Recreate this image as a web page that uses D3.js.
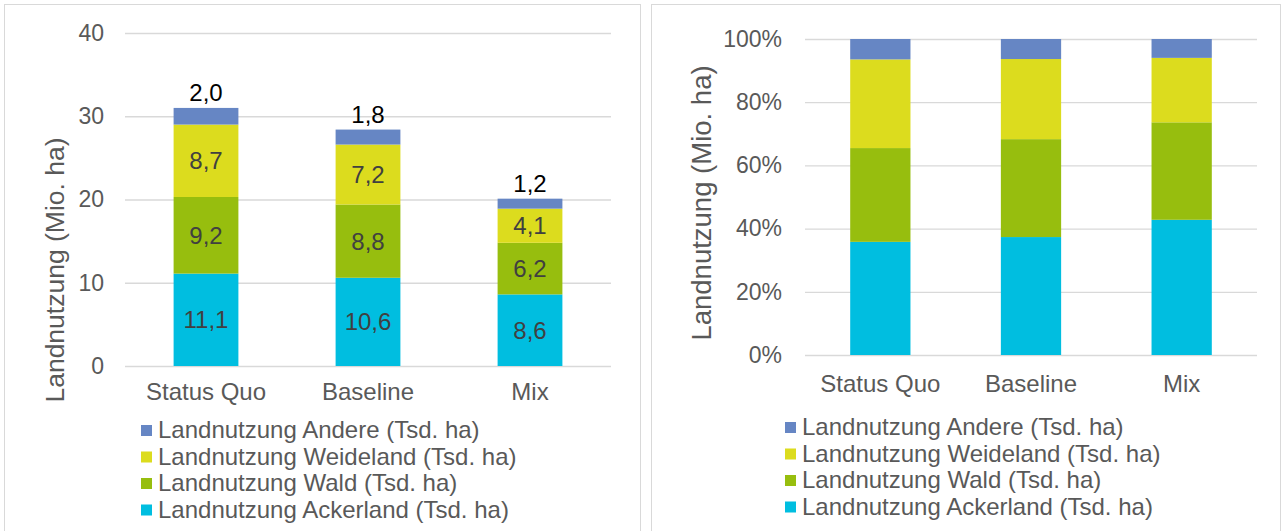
<!DOCTYPE html>
<html>
<head>
<meta charset="utf-8">
<script src="https://cdn.jsdelivr.net/npm/d3@7"></script>
<style>
  html, body { margin: 0; padding: 0; background: #ffffff; }
  svg { display: block; font-family: "Liberation Sans", Arial, sans-serif; }
</style>
</head>
<body>
<svg id="chart" width="1284" height="531"></svg>
<script>
// Land use per scenario (Mio. ha)
const categories = ["Status Quo", "Baseline", "Mix"];
const ackerland = [11.1, 10.6, 8.6];
const wald = [9.2, 8.8, 6.2];
const weideland = [8.7, 7.2, 4.1];
const andere = [2.0, 1.8, 1.2];

const seriesKeys = ["ackerland", "wald", "weideland", "andere"];
const seriesLabels = [
  "Landnutzung Ackerland (Tsd. ha)",
  "Landnutzung Wald (Tsd. ha)",
  "Landnutzung Weideland (Tsd. ha)",
  "Landnutzung Andere (Tsd. ha)"
];
const seriesColors = ["#00BEE0", "#97BE0E", "#DCDC1E", "#6686C4"];

const absTicks = [0, 10, 20, 30, 40];
const pctTicks = [0, 0.2, 0.4, 0.6, 0.8, 1.0];
const yTitle = "Landnutzung (Mio. ha)";

const rows = categories.map((c, i) => ({
  category: c,
  ackerland: ackerland[i],
  wald: wald[i],
  weideland: weideland[i],
  andere: andere[i]
}));

const de = d3.formatLocale({ decimal: ",", thousands: ".", grouping: [3], currency: ["", " €"] });
const fmt1 = de.format(".1f");
const fmtPct = d3.format(".0%");

const svg = d3.select("#chart");
const GRID = "#D9D9D9";
const TEXT = "#595959";

// panel frames
svg.append("rect").attr("x", 4.5).attr("y", 4.5).attr("width", 636).attr("height", 560)
  .attr("fill", "#fff").attr("stroke", GRID);
svg.append("rect").attr("x", 651.5).attr("y", 4.5).attr("width", 629).attr("height", 560)
  .attr("fill", "#fff").attr("stroke", GRID);

function drawPanel(cfg) {
  const stack = d3.stack().keys(seriesKeys);
  if (cfg.expand) stack.offset(d3.stackOffsetExpand);
  const series = stack(rows);

  const x = d3.scaleBand().domain(categories)
    .range([cfg.left, cfg.right]).paddingInner(0.6).paddingOuter(0.3);
  const y = d3.scaleLinear().domain(cfg.domain).range([cfg.bottom, cfg.top]);

  const g = svg.append("g");

  // gridlines + value axis
  const yAxis = d3.axisLeft(y).tickValues(cfg.ticks)
    .tickSize(-(cfg.right - cfg.left)).tickPadding(cfg.tickPad)
    .tickFormat(cfg.tickFormat);
  const ya = g.append("g").attr("transform", `translate(${cfg.left},0)`).call(yAxis);
  ya.select(".domain").remove();
  ya.selectAll(".tick line").attr("stroke", GRID).attr("stroke-width", 1.3);
  ya.selectAll(".tick text").attr("fill", TEXT).style("font-size", "23px");

  // category axis
  const xAxis = d3.axisBottom(x).tickSize(0).tickPadding(cfg.catPad);
  const xa = g.append("g").attr("transform", `translate(0,${cfg.bottom})`).call(xAxis);
  xa.select(".domain").remove();
  xa.selectAll(".tick text").attr("fill", TEXT).style("font-size", "24px");

  // stacked bars
  const layers = g.selectAll(".layer").data(series).join("g")
    .attr("class", "layer")
    .attr("fill", (d, i) => seriesColors[i]);
  layers.selectAll("rect").data(d => d).join("rect")
    .attr("x", d => x(d.data.category))
    .attr("width", x.bandwidth())
    .attr("y", d => y(d[1]))
    .attr("height", d => y(d[0]) - y(d[1]));

  // value labels
  if (cfg.labels) {
    series.forEach((s, si) => {
      const last = si === series.length - 1;
      g.append("g").selectAll("text").data(s).join("text")
        .attr("x", d => x(d.data.category) + x.bandwidth() / 2)
        .attr("y", d => last ? y(d[1]) - 7 : (y(d[0]) + y(d[1])) / 2)
        .attr("dy", last ? 0 : "0.35em")
        .attr("text-anchor", "middle")
        .attr("fill", last ? "#000000" : "#404040")
        .style("font-size", "24px")
        .text(d => fmt1(d.data[s.key]));
    });
  }

  // axis title
  g.append("text")
    .attr("transform", `translate(${cfg.titleX},${cfg.titleY}) rotate(-90)`)
    .attr("text-anchor", "middle")
    .attr("dy", "0.35em")
    .attr("fill", TEXT)
    .style("font-size", cfg.titleSize + "px")
    .text(yTitle);

  // legend (top series first)
  const order = d3.range(seriesKeys.length).reverse();
  const lg = g.append("g");
  order.forEach((si, k) => {
    const by = cfg.legendY + k * 26.5;
    lg.append("rect").attr("x", cfg.legendX).attr("y", by - 13)
      .attr("width", 11).attr("height", 11).attr("fill", seriesColors[si]);
    lg.append("text").attr("x", cfg.legendX + 17).attr("y", by)
      .attr("fill", TEXT).style("font-size", "24px").text(seriesLabels[si]);
  });
}

drawPanel({
  left: 125, right: 611, top: 33, bottom: 366,
  domain: [0, 40], ticks: absTicks, tickFormat: d3.format("d"),
  tickPad: 21, catPad: 17, labels: true, expand: false,
  titleX: 55, titleY: 270, titleSize: 26.5,
  legendX: 141, legendY: 438
});

drawPanel({
  left: 805, right: 1257, top: 39, bottom: 355,
  domain: [0, 1], ticks: pctTicks, tickFormat: fmtPct,
  tickPad: 23, catPad: 20, labels: false, expand: true,
  titleX: 701, titleY: 203, titleSize: 27.5,
  legendX: 785, legendY: 435
});
</script>
</body>
</html>
